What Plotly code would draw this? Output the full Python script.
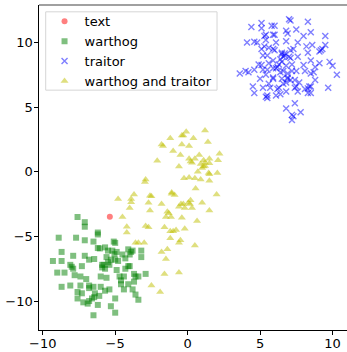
import plotly.graph_objects as go

text_x = [-5.37]
text_y = [-3.48]

warthog_x = [-7.6, -7.1, -7.1, -8.9, -7.7, -6.2, -6.2, -5.1, -5.0, -7.1, -6.5, -8.7, -7.9, -7.1, -9.3,
             -8.7, -8.1, -8.0, -7.9, -7.3, -9.0, -8.5, -7.8, -7.4, -8.7, -8.1, -7.4, -7.6, -7.6, -7.2,
             -6.9, -6.8, -6.6, -6.4, -6.45, -6.5, -6.8, -6.5, -6.0, -5.6, -6.0, -5.4, -6.2, -5.3, -5.0,
             -5.0, -5.7, -6.8, -6.45, -6.2, -6.06, -5.7, -5.5, -5.6, -5.9, -5.8, -5.9, -5.4, -5.7, -5.0,
             -4.9, -4.8, -5.2, -5.05, -4.9, -4.7, -4.6, -4.4, -4.1, -4.3, -4.1, -4.0, -4.5, -4.1, -4.0,
             -3.9, -3.8, -4.6, -4.4, -3.7, -3.6, -3.7, -3.4, -3.6, -3.8, -4.3, -3.2, -3.2, -2.9, -3.4,
             -6.1, -6.8, -5.5, -5.3, -7.3, -7.0]
warthog_y = [-3.5, -3.9, -4.25, -5.1, -5.1, -4.7, -4.85, -5.4, -5.5, -5.3, -5.4, -6.2, -6.5, -6.5, -6.9,
             -6.9, -7.2, -7.35, -7.5, -7.3, -7.8, -7.8, -8.0, -8.1, -8.9, -8.8, -8.8, -9.3, -9.8, -10.1,
             -10.2, -10.0, -9.8, -9.4, -9.7, -11.1, -9.0, -8.9, -8.1, -8.2, -8.9, -9.1, -10.3, -10.4, -9.8,
             -10.9, -9.2, -6.8, -6.75, -5.9, -5.93, -5.85, -6.1, -6.6, -7.2, -7.2, -7.4, -7.2, -7.5, -6.8,
             -6.2, -6.9, -6.1, -6.37, -7.6, -8.1, -8.7, -9.1, -8.7, -6.7, -7.3, -7.3, -6.4, -6.0, -6.4,
             -6.2, -6.1, -8.4, -8.1, -7.9, -8.1, -8.5, -9.9, -9.5, -9.1, -7.5, -6.1, -6.6, -7.9, -8.1,
             -9.6, -8.8, -7.0, -6.8, -9.4, -8.3]

traitor_x = [7.1, 7.0, 8.3, 4.4, 5.1, 5.1, 5.8, 6.0, 6.8, 6.9, 7.5, 8.5, 8.0, 9.5, 5.3, 5.4, 5.9, 6.0,
             4.1, 4.6, 4.8, 6.1, 6.8, 7.6, 8.6, 8.2, 9.5, 9.3, 5.4, 5.1, 5.3, 5.6, 5.9, 6.0, 6.5, 6.7,
             6.5, 6.7, 6.6, 7.1, 7.3, 8.3, 9.1, 9.2, 5.2, 5.5, 5.9, 7.0, 6.4, 6.5, 7.1, 7.6, 8.5, 9.1,
             9.8, 4.9, 5.1, 5.6, 6.3, 6.2, 6.8, 7.2, 8.0, 8.8, 10.0, 3.6, 4.0, 4.2, 4.6, 5.2, 5.5, 5.9,
             6.1, 6.4, 6.6, 6.9, 7.2, 7.5, 8.1, 8.5, 8.7, 10.3, 5.0, 5.4, 5.9, 5.9, 6.5, 6.9, 6.9, 7.1,
             7.4, 7.7, 8.8, 4.5, 5.2, 5.6, 5.7, 6.3, 6.2, 6.6, 6.8, 7.4, 7.5, 8.1, 8.3, 8.4, 8.5, 9.7,
             4.6, 5.4, 5.5, 5.5, 6.1, 6.4, 6.8, 7.6, 8.3, 8.5, 7.4, 6.8, 7.8, 7.2, 7.3, 7.2]
traitor_y = [11.7, 11.8, 11.6, 11.2, 11.5, 11.1, 11.3, 11.3, 10.9, 10.7, 11.0, 10.8, 10.5, 10.5, 10.5, 10.6,
             10.6, 10.6, 10.0, 10.05, 10.0, 10.0, 10.1, 10.0, 9.8, 9.7, 9.8, 9.5, 10.2, 9.5, 9.7, 9.6,
             9.5, 9.4, 9.2, 9.15, 9.1, 9.0, 8.9, 9.4, 9.5, 9.2, 9.3, 9.4, 9.0, 9.0, 8.6, 8.9, 8.7, 8.5,
             8.8, 8.9, 8.6, 8.4, 8.5, 8.3, 8.25, 8.4, 8.3, 8.1, 8.2, 8.3, 8.25, 8.1, 8.2, 7.6, 7.8, 7.7,
             7.9, 7.9, 7.9, 8.0, 8.0, 7.7, 7.8, 7.6, 7.8, 7.8, 7.8, 7.6, 7.7, 7.5, 7.2, 7.5, 7.3, 7.2,
             7.2, 7.3, 7.2, 7.1, 7.1, 6.9, 7.1, 6.6, 6.5, 6.8, 6.5, 6.5, 6.4, 6.8, 6.9, 6.5, 6.6, 6.4,
             6.45, 6.6, 6.6, 6.5, 6.1, 5.8, 5.7, 5.9, 5.9, 6.0, 6.2, 6.2, 6.1, 6.1, 5.3, 4.9, 4.6, 4.4,
             4.3, 4.0]

both_x = [-0.1, -0.3, -1.2, -0.4, 0.4, 1.2, 1.4, -0.4, 0.1, -1.8, -1.7, -1.0, -0.5, 0.8, 2.2, -2.1,
          -0.6, 0.1, 0.2, 0.3, 0.5, 1.1, 1.2, 1.5, 1.5, 0.9, 1.1, 1.2, 1.0, 0.7, 2.1, 2.05, 1.45, 1.5,
          -0.25, 0.1, 0.5, 0.9, 1.5, -2.9, -2.95, 0.55, -1.1, -1.1, -2.5, -2.6, -3.7, -4.8, -3.9, -3.9,
          -2.7, -1.8, -0.9, -0.3, -0.2, 0.05, 0.16, 0.2, 1.0, 2.0, -0.6, -0.46, 0.3, 1.5, -2.6, -4.0,
          -4.5, -1.4, -1.3, -1.15, -0.4, -1.5, -4.2, -4.2, -2.9, -2.7, -1.6, -1.2, -1.0, -0.8, -0.2,
          0.65, -3.6, -3.4, -3.0, -1.2, -0.5, -0.6, 0.5, -1.4, -1.8, -1.5, -0.6, -1.6, -2.5, -1.9]
both_y = [3.1, 2.8, 2.6, 2.8, 2.6, 3.2, 2.3, 2.1, 2.0, 2.1, 2.0, 1.6, 1.3, 1.3, 1.4, 0.85,
          0.4, 1.0, 0.8, 0.7, 1.0, 0.9, 0.7, 1.0, 0.65, 0.6, 0.4, 0.45, 0.3, 0.0, 0.9, -0.1, -0.1, -0.2,
          -0.5, -0.45, -0.5, -0.6, -0.7, -0.6, -0.8, -1.3, -1.6, -1.7, -1.9, -1.85, -1.75, -2.1, -2.1, -2.35,
          -2.4, -2.5, -1.8, -2.5, -2.8, -2.4, -2.5, -2.2, -2.4, -1.75, -2.7, -2.5, -2.8, -3.0, -3.0, -2.8,
          -3.5, -3.1, -3.2, -3.5, -3.55, -3.5, -4.25, -4.7, -4.2, -4.3, -4.3, -4.6, -4.6, -4.5, -4.4,
          -3.8, -5.5, -5.5, -5.5, -5.15, -5.3, -5.5, -5.7, -6.0, -6.2, -6.75, -7.8, -7.9, -8.8, -9.3]

x_ticks = [-10, -5, 0, 5, 10]
x_labels = ["\u221210", "\u22125", "0", "5", "10"]
y_ticks = [-10, -5, 0, 5, 10]
y_labels = ["\u221210", "\u22125", "0", "5", "10"]

fig = go.Figure()
fig.add_trace(go.Scatter(x=text_x, y=text_y, mode="markers", name="text",
                         marker=dict(symbol="circle", size=6, color="rgba(255,0,0,0.5)", line=dict(width=0))))
fig.add_trace(go.Scatter(x=warthog_x, y=warthog_y, mode="markers", name="warthog",
                         marker=dict(symbol="square", size=6, color="rgba(0,128,0,0.5)", line=dict(width=0))))
fig.add_trace(go.Scatter(x=traitor_x, y=traitor_y, mode="markers", name="traitor",
                         marker=dict(symbol="x-thin", size=6, color="rgba(0,0,255,0.5)",
                                     line=dict(width=1.4, color="rgba(0,0,255,0.5)"))))
fig.add_trace(go.Scatter(x=both_x, y=both_y, mode="markers", name="warthog and traitor",
                         marker=dict(symbol="triangle-up", size=7, color="rgba(191,191,0,0.5)", line=dict(width=0))))

axis_common = dict(showgrid=False, zeroline=False, showline=True, linecolor="black", linewidth=1.2,
                   ticks="outside", ticklen=3.5, tickwidth=1, tickcolor="black", automargin=False,
                   tickfont=dict(family="DejaVu Sans", size=13, color="black"))
fig.update_layout(
    width=347, height=352,
    margin=dict(l=39, r=0, t=5, b=22, autoexpand=False),
    paper_bgcolor="white", plot_bgcolor="white",
    font=dict(family="DejaVu Sans", size=13, color="black"),
    xaxis=dict(range=[-10.26, 11.0], tickvals=x_ticks, ticktext=x_labels, ticklabelstandoff=-2, **axis_common),
    yaxis=dict(range=[-12.24, 12.9], tickvals=y_ticks, ticktext=y_labels, ticklabelstandoff=-1, **axis_common),
    legend=dict(x=0.018, y=0.996, xanchor="left", yanchor="top", bgcolor="rgba(0,0,0,0)",
                borderwidth=0, font=dict(family="DejaVu Sans", size=13)),
    shapes=[
        dict(type="line", xref="paper", yref="paper", x0=0, x1=1, y0=1, y1=1,
             line=dict(color="#808080", width=1.5)),
        dict(type="rect", xref="paper", yref="paper", x0=0.0218, x1=0.578, y0=0.738, y1=0.979,
             line=dict(color="#d5d5d5", width=1), fillcolor="white", layer="below"),
    ],
)
fig.write_html("out.html", post_script="document.body.style.margin='0';",
               config={"displayModeBar": False})
